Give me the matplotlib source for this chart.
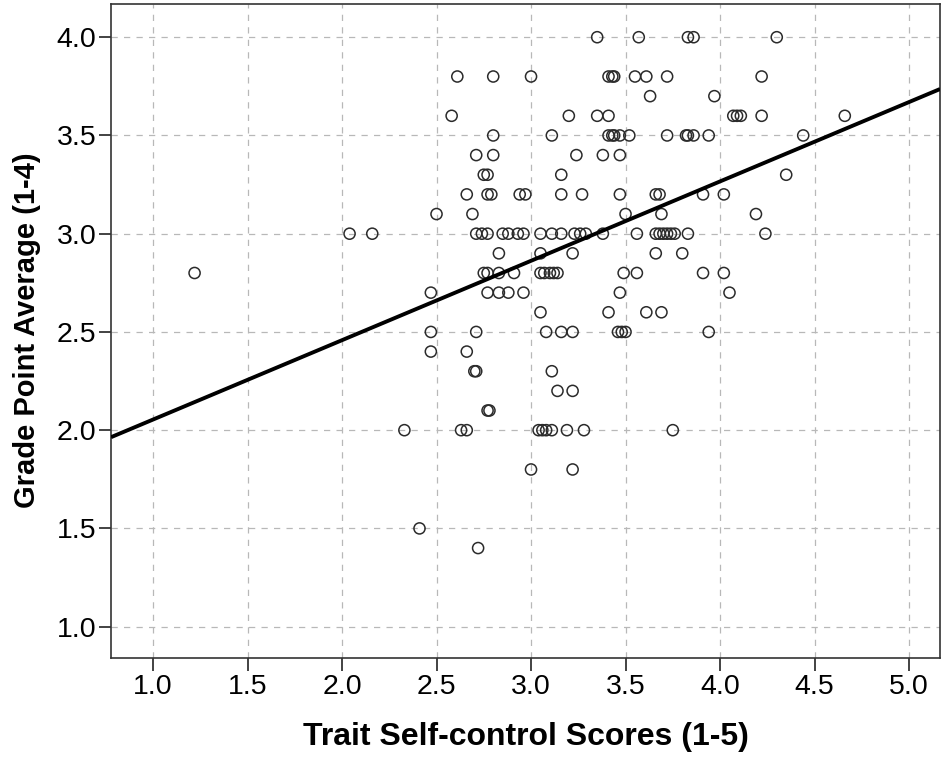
import matplotlib
matplotlib.use("Agg")
import matplotlib.pyplot as plt
import numpy as np

plt.rcParams['font.family'] = ['Liberation Sans', 'DejaVu Sans']

# Grade point average levels and the self-control scores of the students at each level
gpa_levels = [4.0, 3.8, 3.7, 3.6, 3.5, 3.4, 3.3, 3.2, 3.1, 3.0, 2.9, 2.8, 2.7,
              2.6, 2.5, 2.4, 2.3, 2.2, 2.1, 2.0, 1.8, 1.5, 1.4]
selfcontrol_by_gpa = [
    [3.35, 3.57, 3.83, 3.86, 4.30],
    [2.61, 2.80, 3.00, 3.41, 3.43, 3.44, 3.55, 3.61, 3.72, 4.22],
    [3.63, 3.97],
    [2.58, 3.20, 3.35, 3.41, 4.07, 4.09, 4.11, 4.22, 4.66],
    [2.80, 3.11, 3.41, 3.43, 3.44, 3.47, 3.52, 3.72, 3.82, 3.83, 3.86, 3.94, 4.44],
    [2.71, 2.80, 3.24, 3.38, 3.47],
    [2.75, 2.77, 3.16, 4.35],
    [2.66, 2.77, 2.79, 2.94, 2.97, 3.16, 3.27, 3.47, 3.66, 3.68, 3.91, 4.02],
    [2.50, 2.69, 3.50, 3.69, 4.19],
    [2.04, 2.16, 2.71, 2.74, 2.77, 2.85, 2.88, 2.93, 2.96, 3.05, 3.11, 3.16,
     3.23, 3.26, 3.29, 3.38, 3.56, 3.66, 3.68, 3.70, 3.72, 3.74, 3.76, 3.83, 4.24],
    [2.83, 3.05, 3.22, 3.66, 3.80],
    [1.22, 2.75, 2.77, 2.83, 2.91, 3.05, 3.07, 3.10, 3.12, 3.14, 3.49, 3.56, 3.91, 4.02],
    [2.47, 2.77, 2.83, 2.88, 2.96, 3.47, 4.05],
    [3.05, 3.41, 3.61, 3.69],
    [2.47, 2.71, 3.08, 3.16, 3.22, 3.46, 3.48, 3.50, 3.94],
    [2.47, 2.66],
    [2.70, 2.71, 3.11],
    [3.14, 3.22],
    [2.77, 2.78],
    [2.33, 2.63, 2.66, 3.04, 3.06, 3.08, 3.11, 3.19, 3.28, 3.75],
    [3.00, 3.22],
    [2.41],
    [2.72],
]

# Linear fit line: GPA = intercept + slope * self-control
fit_intercept = 1.65
fit_slope = 0.404

x_ticks = [1.0, 1.5, 2.0, 2.5, 3.0, 3.5, 4.0, 4.5, 5.0]
y_ticks = [1.0, 1.5, 2.0, 2.5, 3.0, 3.5, 4.0]

xs = np.concatenate([np.array(v, dtype=float) for v in selfcontrol_by_gpa])
ys = np.concatenate([np.full(len(v), g) for v, g in zip(selfcontrol_by_gpa, gpa_levels)])

fig = plt.figure(figsize=(9.41, 7.61), dpi=100)
ax = fig.add_axes([0.118, 0.136, 0.881, 0.859])

xlim = (0.778, 5.164)
ylim = (0.843, 4.17)
ax.set_xlim(*xlim)
ax.set_ylim(*ylim)

ax.set_axisbelow(True)
ax.grid(True, color='#b8b8b8', linestyle=(0, (5, 5)), linewidth=0.9)

ax.scatter(xs, ys, s=64, facecolors='none', edgecolors='#2b2b2b',
           linewidths=1.1, zorder=3)

line_x = np.array(xlim)
ax.plot(line_x, fit_intercept + fit_slope * line_x, color='black',
        linewidth=2.8, zorder=4, solid_capstyle='butt')

ax.set_xticks(x_ticks)
ax.set_yticks(y_ticks)
ax.set_xticklabels([f"{t:.1f}" for t in x_ticks])
ax.set_yticklabels([f"{t:.1f}" for t in y_ticks])
ax.tick_params(axis='both', direction='out', length=9, width=1.2,
               color='#222222', labelsize=20.5, labelcolor='black')
ax.tick_params(axis='x', pad=3)
ax.tick_params(axis='y', pad=1.5)

for sp in ax.spines.values():
    sp.set_color('#333333')
    sp.set_linewidth(1.2)

ax.set_xlabel('Trait Self-control Scores (1-5)', fontsize=23, fontweight='bold',
              labelpad=16)
ax.set_ylabel('Grade Point Average (1-4)', fontsize=21, fontweight='bold',
              labelpad=11)

fig.savefig('out.png', dpi=100)
